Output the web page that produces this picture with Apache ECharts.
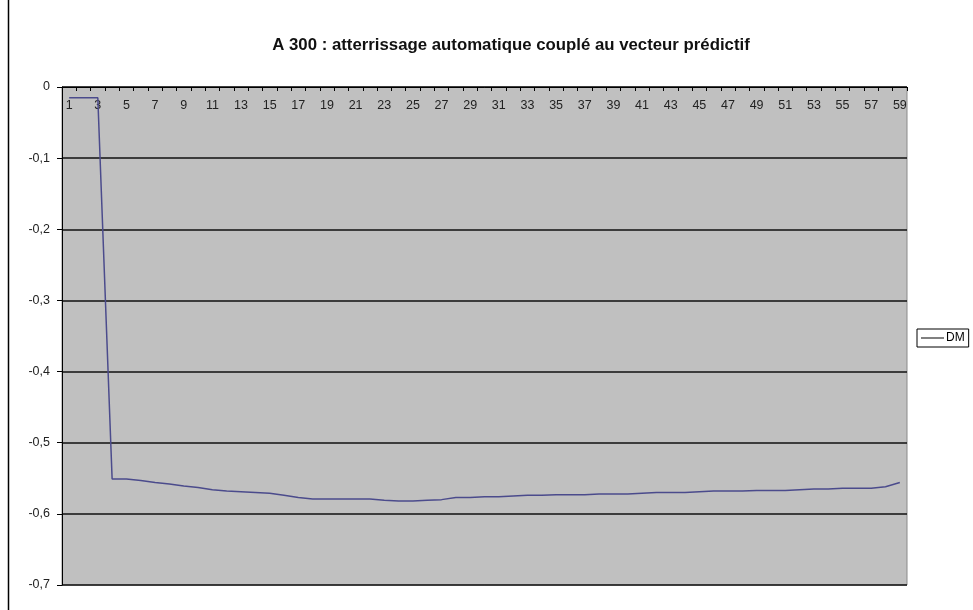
<!DOCTYPE html>
<html>
<head>
<meta charset="utf-8">
<script src="https://cdn.jsdelivr.net/npm/echarts@6/dist/echarts.min.js"></script>
<style>
  html, body { margin: 0; padding: 0; background: #ffffff; }
  #chart { width: 973px; height: 610px; }
</style>
</head>
<body>
<div id="chart"></div>
<script>
// Sample index along the approach
const categories = Array.from({ length: 59 }, (_, i) => String(i + 1));

// DM values per sample
const dmValues = [
  -0.015, -0.015, -0.015, -0.551, -0.551, -0.553, -0.556, -0.558, -0.561, -0.563,
  -0.566, -0.568, -0.569, -0.570, -0.571, -0.574, -0.577, -0.579, -0.579, -0.579,
  -0.579, -0.579, -0.581, -0.582, -0.582, -0.581, -0.580, -0.577, -0.577, -0.576,
  -0.576, -0.575, -0.574, -0.574, -0.573, -0.573, -0.573, -0.572, -0.572, -0.572,
  -0.571, -0.570, -0.570, -0.570, -0.569, -0.568, -0.568, -0.568, -0.567, -0.567,
  -0.567, -0.566, -0.565, -0.565, -0.564, -0.564, -0.564, -0.562, -0.556
];

const seriesName = 'DM';
const titleText = 'A 300 : atterrissage automatique couplé au vecteur prédictif';
const yMin = -0.7, yMax = 0, yStep = 0.1;

const chart = echarts.init(document.getElementById('chart'), null, { renderer: 'canvas' });
const FONT = 'Liberation Sans, Arial, sans-serif';

chart.setOption({
  backgroundColor: '#ffffff',
  animation: false,
  title: {
    text: titleText,
    left: 506,
    textAlign: 'center',
    top: 32,
    textStyle: { fontFamily: FONT, fontSize: 16.8, fontWeight: 'bold', color: '#111' }
  },
  legend: {
    data: [seriesName],
    left: 917,
    top: 329,
    orient: 'vertical',
    backgroundColor: '#fff',
    borderColor: '#000',
    borderWidth: 1,
    borderRadius: 0,
    padding: [3, 4, 3, 4],
    itemGap: 0,
    itemWidth: 23,
    itemHeight: 1,
    icon: 'rect',
    itemStyle: { color: '#000' },
    textStyle: { fontFamily: FONT, fontSize: 12, color: '#000', padding: [0, 0, 0, -3] }
  },
  grid: {
    left: 62, right: 66, top: 87, bottom: 25,
    show: true,
    backgroundColor: '#c0c0c0',
    borderColor: '#8a8a8a',
    borderWidth: 1
  },
  xAxis: {
    type: 'category',
    position: 'top',
    data: categories,
    boundaryGap: true,
    axisLine: { show: true, onZero: false, lineStyle: { color: '#000', width: 1 } },
    axisTick: { show: true, inside: true, length: 4, interval: 0, lineStyle: { color: '#000' } },
    axisLabel: {
      inside: true,
      interval: 1,
      margin: 12,
      fontFamily: FONT,
      fontSize: 12.5,
      color: '#222',
      verticalAlign: 'top'
    },
    splitLine: { show: false }
  },
  yAxis: {
    type: 'value',
    min: yMin,
    max: yMax,
    interval: yStep,
    axisLine: { show: true, lineStyle: { color: '#000', width: 1 } },
    axisTick: { show: true, inside: false, length: 5, lineStyle: { color: '#000' } },
    axisLabel: {
      fontFamily: FONT,
      fontSize: 12.5,
      color: '#222',
      margin: 12,
      formatter: v => (Math.round(v * 10) / 10).toString().replace('.', ',')
    },
    splitLine: { show: true, lineStyle: { color: '#111', width: 1.5 } }
  },
  series: [{
    name: seriesName,
    type: 'line',
    data: dmValues,
    showSymbol: false,
    symbol: 'none',
    color: '#4b4b8c',
    lineStyle: { color: '#4b4b8c', width: 1.5 }
  }],
  graphic: [{
    type: 'line',
    shape: { x1: 8.5, y1: 0, x2: 8.5, y2: 610 },
    style: { stroke: '#000', lineWidth: 1.5 }
  }]
});
</script>
</body>
</html>
